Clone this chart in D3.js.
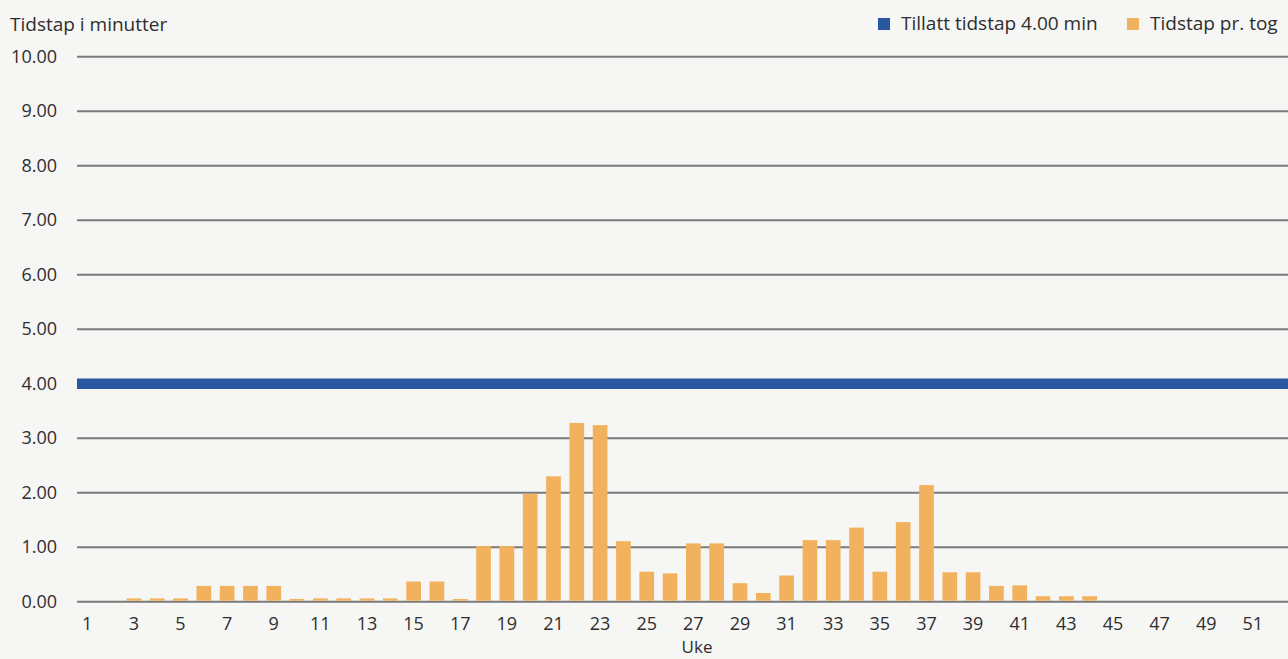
<!DOCTYPE html>
<html><head><meta charset="utf-8">
<script src="https://cdn.jsdelivr.net/npm/d3@7"></script>
<style>
html,body{margin:0;padding:0;background:#f6f6f5;}
svg{display:block;}
text{font-family:"Open Sans","Noto Sans",sans-serif;fill:#2e2e2e;}
</style></head>
<body>
<svg id="chart" width="1288" height="659"></svg>
<script>
const weeks = d3.range(1, 53);
const values = [0,0,0.06,0.06,0.06,0.29,0.29,0.29,0.29,0.05,0.06,0.06,0.06,0.06,0.37,0.37,0.05,1.02,1.02,1.98,2.30,3.28,3.24,1.11,0.55,0.52,1.07,1.07,0.34,0.16,0.48,1.13,1.13,1.36,0.55,1.46,2.14,0.54,0.54,0.29,0.30,0.10,0.10,0.10,0,0,0,0,0,0,0,0];
const yTicks = [0,1,2,3,4,5,6,7,8,9,10];
const xTickLabels = d3.range(1, 53, 2);
const limitValue = 4.0;
const legendLabels = ["Tillatt tidstap 4.00 min", "Tidstap pr. tog"];
const colors = {limit:"#2a57a2", bar:"#f2b15c", grid:"#7a7a7a", text:"#2e2e2e"};

const svg = d3.select("#chart");
const gridLeft = 77, gridRight = 1288, mTop = 56.7, mBottom = 601.7;

const x = d3.scaleBand().domain(weeks).range([75.6, 1287.8]).paddingInner(0.37).paddingOuter(0.185);
const y = d3.scaleLinear().domain([0, 10]).range([mBottom, mTop]);

// gridlines
svg.append("g").selectAll("line").data(yTicks).join("line")
  .attr("x1", gridLeft).attr("x2", gridRight)
  .attr("y1", d => y(d)).attr("y2", d => y(d))
  .attr("stroke", colors.grid).attr("stroke-width", 2);

// y axis labels
const yAxis = d3.axisLeft(y).tickValues(yTicks).tickFormat(d3.format(".2f")).tickSize(0).tickPadding(20);
const gy = svg.append("g").attr("transform", `translate(${gridLeft},0)`).call(yAxis);
gy.select(".domain").remove();
gy.selectAll("text").attr("font-size", 18).attr("fill", colors.text).attr("font-family", "Open Sans, Noto Sans, sans-serif");

// limit line
svg.append("line")
  .attr("x1", gridLeft).attr("x2", gridRight)
  .attr("y1", y(limitValue)).attr("y2", y(limitValue))
  .attr("stroke", colors.limit).attr("stroke-width", 10.5);

// bars
svg.append("g").selectAll("rect").data(weeks.map((w, i) => ({w, v: values[i]})).filter(d => d.v > 0)).join("rect")
  .attr("x", d => x(d.w)).attr("width", x.bandwidth())
  .attr("y", d => y(d.v)).attr("height", d => y(0) - y(d.v) - 1)
  .attr("fill", colors.bar);

// x axis labels
const xAxis = d3.axisBottom(x).tickValues(xTickLabels).tickSize(0).tickPadding(16);
const gx = svg.append("g").attr("transform", `translate(0,${mBottom})`).call(xAxis);
gx.select(".domain").remove();
gx.selectAll("text").attr("font-size", 18).attr("fill", colors.text).attr("font-family", "Open Sans, Noto Sans, sans-serif");

// titles
svg.append("text").attr("x", 10).attr("y", 31).attr("font-size", 19).text("Tidstap i minutter");
svg.append("text").attr("x", 697).attr("y", 653).attr("font-size", 17).attr("text-anchor", "middle").text("Uke");

// legend
const leg = svg.append("g");
const legItems = [{label: legendLabels[0], color: colors.limit, x: 878}, {label: legendLabels[1], color: colors.bar, x: 1127}];
legItems.forEach(it => {
  leg.append("rect").attr("x", it.x).attr("y", 18).attr("width", 12).attr("height", 12).attr("fill", it.color);
  leg.append("text").attr("x", it.x + 23).attr("y", 30).attr("font-size", 19).text(it.label);
});
</script>
</body></html>
